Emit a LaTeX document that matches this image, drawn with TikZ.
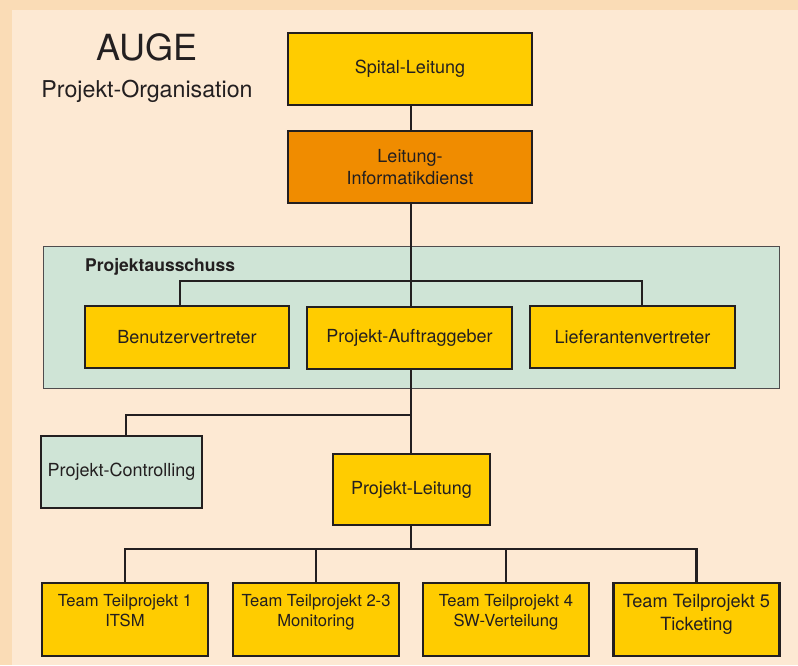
\documentclass[tikz,border=0pt]{standalone}
\usepackage{fontspec}
\setmainfont{TeX Gyre Heros}
\definecolor{rahmen}{HTML}{FADCB6}
\definecolor{grund}{HTML}{FDE9D3}
\definecolor{gelb}{HTML}{FFCC00}
\definecolor{orange}{HTML}{F08C00}
\definecolor{gruen}{HTML}{CFE4D6}
\definecolor{tinte}{HTML}{231F20}
\tikzset{
  box/.style={draw=tinte, line width=2.8pt, text=tinte, align=center,
    inner sep=0pt, font=\fontsize{18}{22}\selectfont},
  gelbbox/.style={box, fill=gelb},
  teambox/.style={gelbbox, minimum width=166pt, minimum height=73pt},
  teamtext/.style={anchor=north, inner sep=0pt, align=center, text=tinte,
    font=\fontsize{16.6}{19.5}\selectfont},
  linie/.style={draw=tinte, line width=2.6pt}
}
\begin{document}
\begin{tikzpicture}[x=1pt, y=-1pt]
  \useasboundingbox (0,0) rectangle (798,665);
  \fill[rahmen] (0,0) rectangle (798,665);
  \fill[grund] (12,10) rectangle (798,665);

  % Titel
  \node[anchor=base, text=tinte, font=\fontsize{36}{40}\selectfont] (titel) at (147,60) {AUGE};
  \node[anchor=base, text=tinte, font=\fontsize{23.2}{27}\selectfont] (untertitel) at (147,97) {Projekt-Organisation};

  % Leitung
  \node[gelbbox, minimum width=244pt, minimum height=72pt] (spital) at (410,69) {Spital-Leitung};
  \node[box, fill=orange, minimum width=244pt, minimum height=72pt] (infodienst) at (410,167) {Leitung-\\Informatikdienst};

  % Projektausschuss
  \node[draw=tinte!80, line width=0.8pt, fill=gruen, inner sep=0pt,
    minimum width=736pt, minimum height=142pt] (ausschuss) at (411,317) {};
  \node[anchor=base west, inner sep=0pt, text=tinte, font=\fontsize{17.5}{21}\selectfont\bfseries] (ausschusstxt) at (85,271) {Projektausschuss};
  \coordinate (bus) at (411,281);
  \node[gelbbox, minimum width=204pt, minimum height=62pt] (benutzer) at (187,337) {Benutzervertreter};
  \node[gelbbox, minimum width=205pt, minimum height=62pt] (auftraggeber) at (409.5,338) {Projekt-Auftraggeber};
  \node[gelbbox, minimum width=205pt, minimum height=62pt] (lieferant) at (632.5,337) {Lieferantenvertreter};

  % Controlling und Projektleitung
  \node[box, fill=gruen, minimum width=161pt, minimum height=72pt] (controlling) at (121.5,472) {Projekt-Controlling};
  \node[gelbbox, minimum width=157pt, minimum height=71pt] (pleitung) at (411.5,489.5) {Projekt-Leitung};
  \coordinate (ctrl) at (411,415);
  \coordinate (teambus) at (411,549);

  % Teilprojekte
  \node[teambox] (team1) at (125,619.5) {};
  \node[teambox] (team23) at (316,619.5) {};
  \node[teambox] (team4) at (506,619.5) {};
  \node[teambox] (team5) at (696.5,619.5) {};
  \node[teamtext] (team1txt) at ([yshift=-13pt]team1.north) {Team Teilprojekt 1\\ITSM};
  \node[teamtext] (team23txt) at ([yshift=-13pt]team23.north) {Team Teilprojekt 2-3\\Monitoring};
  \node[teamtext] (team4txt) at ([yshift=-13pt]team4.north) {Team Teilprojekt 4\\SW-Verteilung};
  \node[teamtext, font=\fontsize{18.2}{23}\selectfont] (team5txt) at ([yshift=-12pt]team5.north) {Team Teilprojekt 5\\Ticketing};

  % Verbindungen
  \draw[linie] (spital.south -| 411,0) -- (infodienst.north -| 411,0);
  \draw[linie] (infodienst.south -| 411,0) -- (auftraggeber.north -| 411,0);
  \draw[linie] ([xshift=-7pt]benutzer.north) |- ([xshift=9.5pt]lieferant.north |- bus) -- ([xshift=9.5pt]lieferant.north);
  \draw[linie] (auftraggeber.south -| 411,0) -- (pleitung.north -| 411,0);
  \draw[linie] ([xshift=4.5pt]controlling.north) |- (ctrl);
  \draw[linie] (pleitung.south -| 411,0) -- (teambus);
  \draw[linie] (team1.north) |- (team5.north |- teambus) -- (team5.north);
  \draw[linie] (team23.north) -- (team23.north |- teambus);
  \draw[linie] (team4.north) -- (team4.north |- teambus);
\end{tikzpicture}
\end{document}
